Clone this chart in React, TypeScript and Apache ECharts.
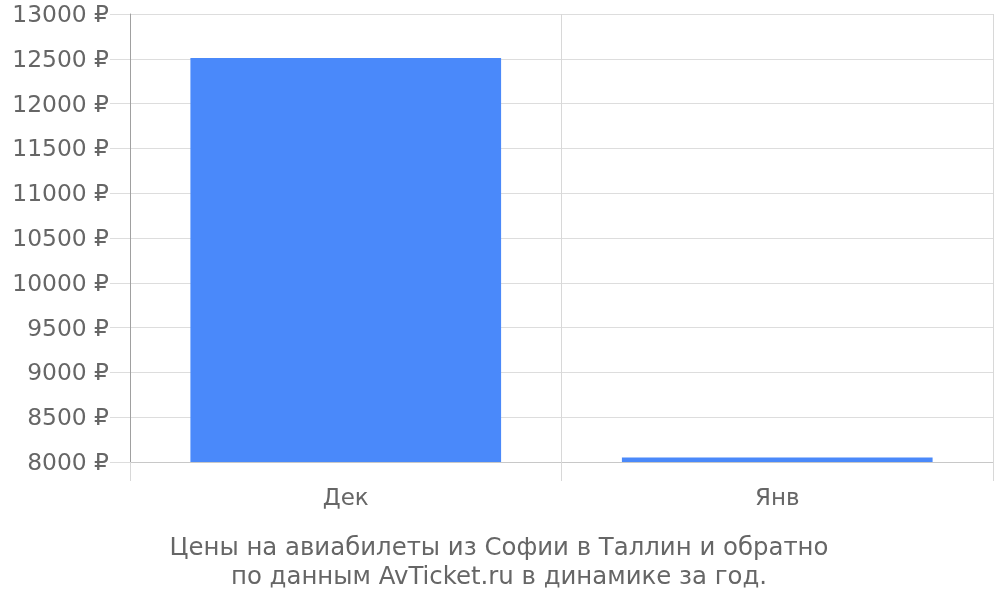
import React, { useEffect, useRef } from "react";
import * as echarts from "echarts";

const categories = ["Дек", "Янв"];
const prices = [12510, 8050];
const titleLines = [
  "Цены на авиабилеты из Софии в Таллин и обратно",
  "по данным AvTicket.ru в динамике за год.",
];

export default function App() {
  const ref = useRef<HTMLDivElement>(null);
  useEffect(() => {
    if (!ref.current) return;
    const chart = echarts.init(ref.current, null, { renderer: "svg" });
    const font = "DejaVu Sans";
    chart.setOption({
      animation: false,
      textStyle: { fontFamily: font },
      graphic: titleLines.map((line, i) => ({
        type: "text",
        x: 499,
        y: 546 + i * 29,
        style: {
          text: line,
          fontFamily: font,
          fontSize: 24.4,
          fill: "#666666",
          align: "center",
          verticalAlign: "middle",
        },
      })),
      grid: { left: 130, right: 7, top: 14, bottom: 138, containLabel: false },
      xAxis: {
        type: "category",
        data: categories,
        boundaryGap: true,
        axisLine: { show: true, lineStyle: { color: "#c8c8c8", width: 1 } },
        axisTick: { show: true, length: 19, lineStyle: { color: "#d8d8d8" } },
        splitLine: { show: true, lineStyle: { color: "#d8d8d8" } },
        axisLabel: { color: "#666666", fontSize: 23, fontFamily: font, margin: 23 },
      },
      yAxis: {
        type: "value",
        min: 8000,
        max: 13000,
        interval: 500,
        axisLine: { show: true, lineStyle: { color: "#a0a0a0", width: 1 } },
        axisTick: { show: true, length: 20, lineStyle: { color: "#dddddd" } },
        splitLine: { show: true, lineStyle: { color: "#dddddd" } },
        axisLabel: {
          color: "#666666",
          fontSize: 23.4,
          fontFamily: font,
          margin: 21,
          formatter: (v: number) => `${v} ₽`,
        },
      },
      series: [
        {
          type: "bar",
          data: prices,
          barWidth: "72%",
          itemStyle: { color: "#4a89fa" },
        },
      ],
    });
    return () => chart.dispose();
  }, []);
  return (
    <div
      ref={ref}
      style={{ position: "fixed", left: 0, top: 0, width: 1000, height: 600 }}
    />
  );
}
